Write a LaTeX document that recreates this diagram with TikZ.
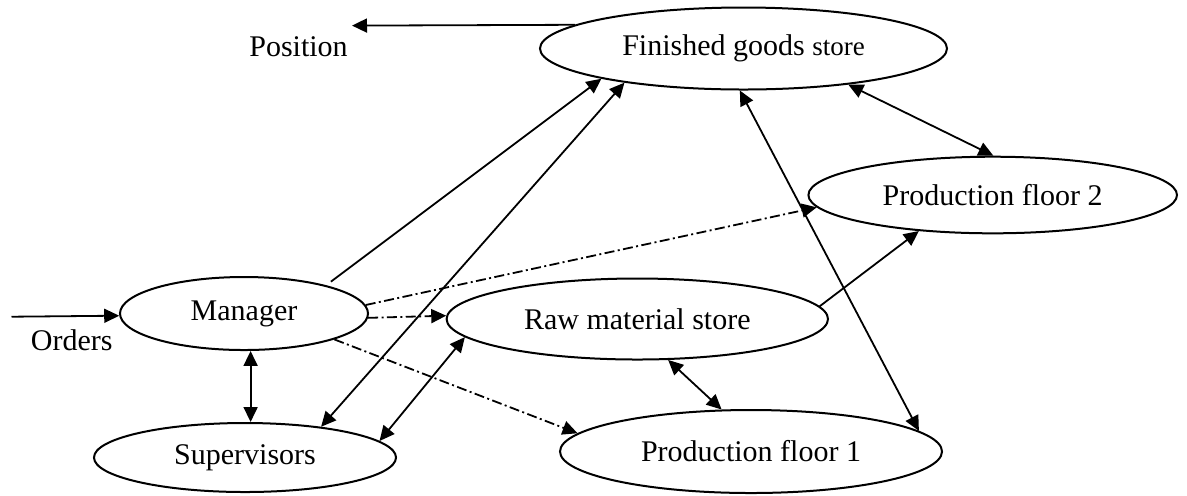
\documentclass[tikz,border=0pt]{standalone}
\usepackage{fontspec}
\setmainfont{Liberation Serif}
\usetikzlibrary{arrows.meta,shapes.geometric}
\begin{document}
\begin{tikzpicture}[x=0.5pt,y=-0.5pt,
  blob/.style={draw, ellipse, line width=1pt, inner sep=0pt,
    font=\fontsize{15}{18}\selectfont},
  link/.style={line width=0.9pt, -{Triangle[length=7.5pt,width=7pt]}},
  twoway/.style={line width=0.9pt,
    {Triangle[length=7.5pt,width=7pt]}-{Triangle[length=7.5pt,width=7pt]}},
  dashdot/.style={dash pattern=on 5pt off 1.7pt on 1pt off 1.7pt},
  lbl/.style={font=\fontsize{15}{18}\selectfont, inner sep=0pt}]
\useasboundingbox (0,0) rectangle (1187,495);

% stores, floors and staff
\node[blob, minimum width=203.5pt, minimum height=41pt] (fgs) at (743.5,48.5)
  {Finished goods {\fontsize{13.5}{16}\selectfont store}};
\node[blob, minimum width=184.3pt, minimum height=38.3pt] (pf2) at (992.7,195)
  {Production floor 2};
\node[blob, minimum width=124pt, minimum height=36.5pt] (mgr) at (244,313.5)
  {Manager};
\node[blob, minimum width=190.7pt, minimum height=40.5pt] (raw) at (637.3,319)
  {Raw material store};
\node[blob, minimum width=151pt, minimum height=34.5pt] (sup) at (245,457.5)
  {Supervisors};
\node[blob, minimum width=191pt, minimum height=41.5pt] (pf1) at (751,451.5)
  {Production floor 1};

% external inputs and outputs
\node[lbl] (pos) at (298.5,46.7) {Position};
\node[lbl] (ord) at (71.8,340) {Orders};
\coordinate (posend) at (352,25.6);
\coordinate (ordstart) at (11.5,316.7);

\draw[link] (fgs.172.3) -- (posend);
\draw[link] (ordstart) -- (mgr.181.5);

% material and information flows
\draw[link, shorten <=3pt] (mgr.19.9) -- (fgs.192.1);
\draw[twoway] (sup.22.2) -- (fgs.196.6);
\draw[twoway] (pf1.7.4) -- (fgs.265);
\draw[twoway] (fgs.341.9) -- (pf2.89.1);
\draw[link] (raw.4) -- (pf2.206.8);
\draw[link, dashdot] (mgr.4.8) -- (pf2.184.05);
\draw[link, dashdot] (mgr.358.85) -- (raw.179.1);
\draw[link, dashdot] (mgr.344.4) -- (pf1.174.6);
\draw[twoway] (mgr.280) -- (mgr.280 |- sup.north);
\draw[twoway] (sup.7.7) -- (raw.186.9);
\draw[twoway] (raw.307.9) -- (pf1.125.2);
\end{tikzpicture}
\end{document}
